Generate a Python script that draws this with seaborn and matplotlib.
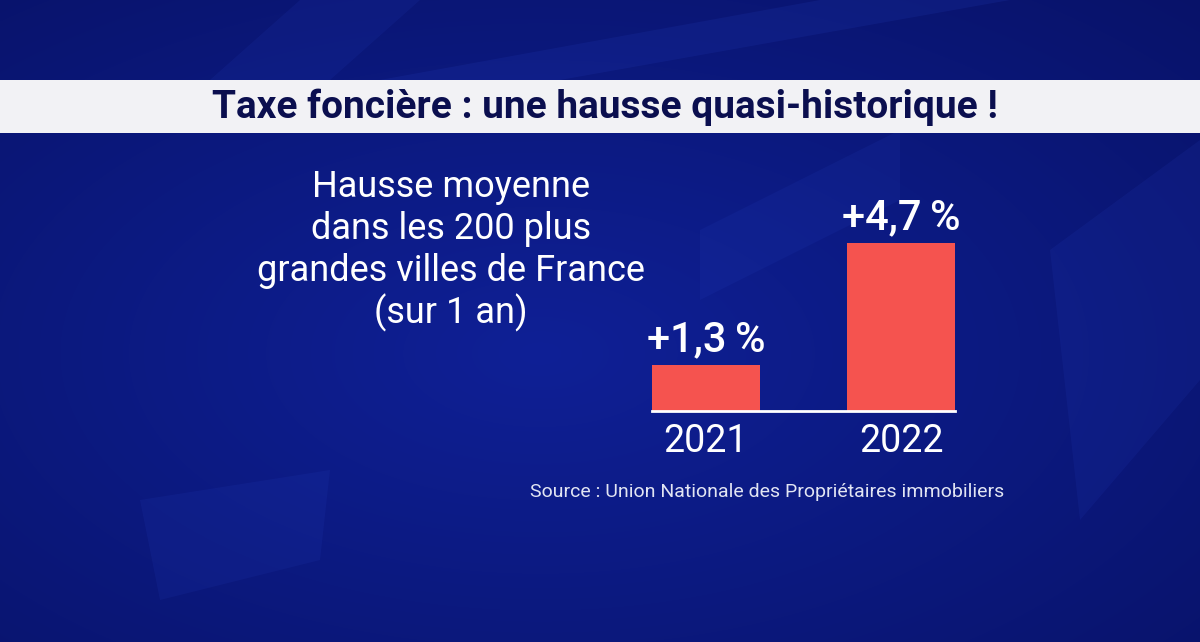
import numpy as np
import pandas as pd
import matplotlib
matplotlib.use("Agg")
import matplotlib.pyplot as plt
from matplotlib.patches import Rectangle, Polygon
import seaborn as sns

# ---- data ----
years = ["2021", "2022"]
values = [1.3, 4.7]
value_labels = ["+1,3\u2009%", "+4,7\u2009%"]
title = "Taxe foncière : une hausse quasi-historique !"
subtitle_lines = ["Hausse moyenne", "dans les 200 plus", "grandes villes de France", "(sur 1 an)"]
source = "Source : Union Nationale des Propriétaires immobiliers"

sns.set_theme(style="white")
plt.rcParams['font.family'] = ['Roboto', 'DejaVu Sans']

W, H = 1200, 642
fig = plt.figure(figsize=(12, 6.42), dpi=100)

# ---- background ----
bg = fig.add_axes([0, 0, 1, 1])
yy, xx = np.mgrid[0:H, 0:W]
cx, cy = 0.45 * W, 0.55 * H
r = np.sqrt(((xx - cx) / W) ** 2 + ((yy - cy) / H) ** 2)
t = np.clip(r / 0.8, 0, 1)
c_center = np.array([0x0f, 0x20, 0x96]) / 255
c_edge = np.array([0x08, 0x12, 0x68]) / 255
img = c_center[None, None, :] * (1 - t[..., None]) + c_edge[None, None, :] * t[..., None]
bg.imshow(img, extent=[0, W, H, 0], aspect='auto', zorder=0)
bg.set_xlim(0, W)
bg.set_ylim(H, 0)
bg.axis('off')
# faint decorative shapes
shapes = [
    [(300, 0), (420, 0), (330, 80), (210, 80)],
    [(140, 500), (330, 470), (320, 560), (160, 600)],
    [(1050, 250), (1200, 140), (1200, 380), (1080, 520)],
    [(700, 230), (900, 130), (900, 200), (700, 300)],
]
for s in shapes:
    bg.add_patch(Polygon(s, closed=True, facecolor='#2a46c8', alpha=0.12, edgecolor='none', zorder=1))
bg.add_patch(Polygon([(820, 0), (1010, 0), (560, 80), (380, 80)], closed=True,
                     facecolor='#2a46c8', alpha=0.15, edgecolor='none', zorder=1))

# title bar
bg.add_patch(Rectangle((0, 80), W, 53, facecolor='#f2f2f5', edgecolor='none', zorder=2))
bg.text(605, 107, title, ha='center', va='center', color='#0b0f4f',
        fontsize=28, fontweight='bold', zorder=3)

# subtitle block
for i, line in enumerate(subtitle_lines):
    bg.text(451, 187 + i * 42, line, ha='center', va='center', color='white',
            fontsize=26, fontweight='normal', zorder=3)

# source
bg.text(767, 492, source, ha='center', va='center', color='#e2e5f3',
        fontsize=14, fontweight='normal', zorder=3)

# ---- bar chart ----
x0, x1 = 652, 955
ybase = 411
px_per_unit = (411 - 243) / 4.7
ymax = 5.0
ax_h = ymax * px_per_unit
ax = fig.add_axes([x0 / W, 1 - ybase / H, (x1 - x0) / W, ax_h / H])
ax.patch.set_alpha(0)
df = pd.DataFrame({"year": years, "value": values})
sns.barplot(data=df, x="year", y="value", color='#f5534f', width=0.55,
            saturation=1, ax=ax, edgecolor='none')
ax.set_xlim(-0.275, 1.275)
ax.set_ylim(0, ymax)
ax.set_xlabel('')
ax.set_ylabel('')
ax.set_yticks([])
ax.tick_params(axis='x', length=0, pad=9, labelsize=27, labelcolor='white')
for sp in ['top', 'right', 'left']:
    ax.spines[sp].set_visible(False)
ax.spines['bottom'].set_color('white')
ax.spines['bottom'].set_linewidth(2)
for lbl in ax.get_xticklabels():
    lbl.set_fontweight('normal')
for i, (v, lab) in enumerate(zip(values, value_labels)):
    ax.text(i, v + 0.12, lab, ha='center', va='bottom', color='white',
            fontsize=30, fontweight='medium')

fig.savefig("out.png", dpi=100)
